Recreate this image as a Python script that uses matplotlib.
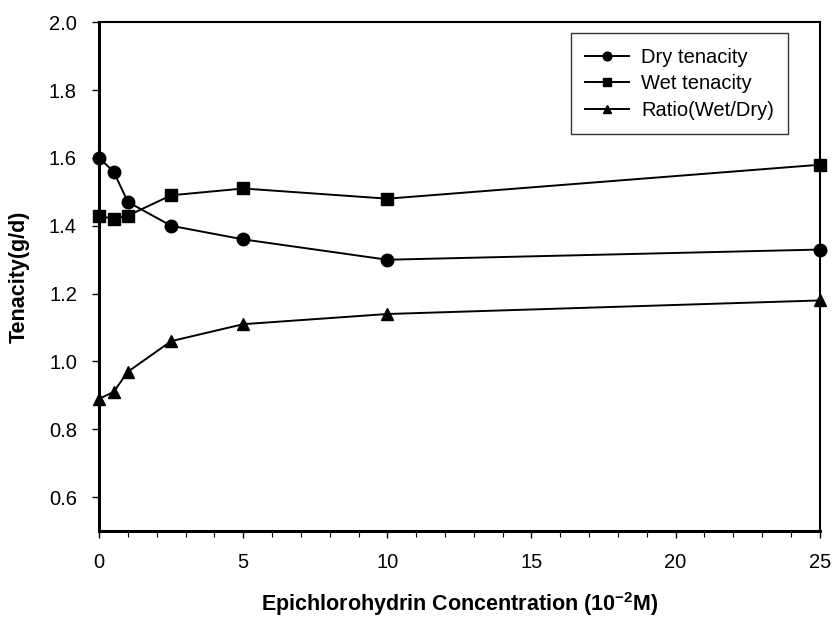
import matplotlib.pyplot as plt

plt.rcParams['font.family'] = ['Liberation Sans', 'DejaVu Sans']
plt.rcParams['mathtext.fontset'] = 'custom'
plt.rcParams['mathtext.rm'] = 'Liberation Sans:bold'
plt.rcParams['mathtext.bf'] = 'Liberation Sans:bold'

conc = [0, 0.5, 1, 2.5, 5, 10, 25]
dry = [1.60, 1.56, 1.47, 1.40, 1.36, 1.30, 1.33]
wet = [1.43, 1.42, 1.43, 1.49, 1.51, 1.48, 1.58]
ratio = [0.89, 0.91, 0.97, 1.06, 1.11, 1.14, 1.18]

fig = plt.figure(figsize=(8.33, 6.19), dpi=100)
ax = fig.add_axes([0.119, 0.142, 0.865, 0.822])

ax.plot(conc, dry, color='black', lw=1.4, marker='o', ms=9, label='Dry tenacity', clip_on=False, zorder=3)
ax.plot(conc, wet, color='black', lw=1.4, marker='s', ms=8, label='Wet tenacity', clip_on=False, zorder=3)
ax.plot(conc, ratio, color='black', lw=1.4, marker='^', ms=9, label='Ratio(Wet/Dry)', clip_on=False, zorder=3)

ax.set_xlim(0, 25)
ax.set_ylim(0.5, 2.0)
ax.set_xticks([0, 5, 10, 15, 20, 25])
ax.set_xticks(range(0, 26), minor=True)
ax.set_yticks([0.6, 0.8, 1.0, 1.2, 1.4, 1.6, 1.8, 2.0])
ax.set_yticklabels(['0.6', '0.8', '1.0', '1.2', '1.4', '1.6', '1.8', '2.0'])
ax.tick_params(axis='both', which='major', direction='out', length=5, width=1, labelsize=14.5)
ax.tick_params(axis='x', which='major', pad=11)
ax.tick_params(axis='y', which='major', pad=11)
ax.tick_params(axis='x', which='minor', direction='out', length=4, width=0.8)

ax.spines['left'].set_linewidth(2.2)
ax.spines['bottom'].set_linewidth(2.2)
ax.spines['top'].set_linewidth(1.5)
ax.spines['right'].set_linewidth(1.5)

ax.set_xlabel('Epichlorohydrin Concentration (10$^{\\mathbf{-2}}$M)', fontsize=15.5, fontweight='bold', labelpad=13)
ax.set_ylabel('Tenacity(g/d)', fontsize=15.5, fontweight='bold', labelpad=14)

leg = ax.legend(loc='upper right', bbox_to_anchor=(0.956, 0.978), borderaxespad=0, fontsize=14.5,
                frameon=True, fancybox=False, edgecolor='black', borderpad=0.7,
                handlelength=2.2, handletextpad=0.6, labelspacing=0.38, markerscale=0.7)
leg.get_frame().set_linewidth(1.0)

fig.savefig('out.png', dpi=100)
